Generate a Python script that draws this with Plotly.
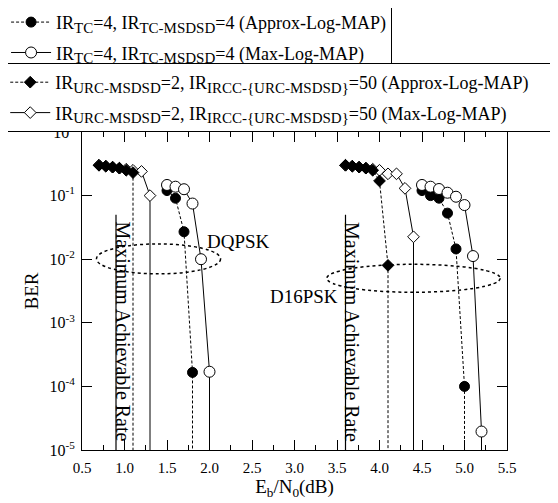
import plotly.graph_objects as go

# ---------------- data ----------------
# TC (turbo) series, Approx-Log-MAP (filled circles, dashed)
tc_approx_x = [1.5, 1.6, 1.7, 1.8, 1.8, None, 4.5, 4.6, 4.7, 4.8, 4.9, 5.0, 5.0]
tc_approx_y = [0.12, 0.091, 0.027, 1.66e-4, 1e-7, None, 0.12, 0.10, 0.091, 0.053, 0.0145, 1.0e-4, 1e-7]
# TC series, Max-Log-MAP (hollow circles, solid)
tc_max_x = [1.5, 1.6, 1.7, 1.8, 1.9, 2.0, 2.0, None, 4.5, 4.6, 4.7, 4.8, 4.9, 5.0, 5.1, 5.2, 5.2]
tc_max_y = [0.147, 0.138, 0.126, 0.075, 0.010, 1.7e-4, 1e-7, None,
            0.147, 0.138, 0.127, 0.111, 0.096, 0.071, 0.0112, 1.95e-5, 1e-7]
# URC / IRCC series, Approx-Log-MAP (filled diamonds, dashed)
urc_approx_x = [0.7, 0.78, 0.86, 0.94, 1.02, 1.1, 1.1, None,
                3.6, 3.68, 3.76, 3.84, 3.92, 4.0, 4.1, 4.1]
urc_approx_y = [0.30, 0.29, 0.28, 0.27, 0.25, 0.23, 1e-7, None,
                0.30, 0.29, 0.28, 0.27, 0.25, 0.17, 0.008, 1e-7]
# URC / IRCC series, Max-Log-MAP (hollow diamonds, solid)
urc_max_x = [0.7, 0.78, 0.86, 0.94, 1.02, 1.1, 1.2, 1.3, 1.3, None,
             3.6, 3.68, 3.76, 3.84, 3.92, 4.0, 4.1, 4.2, 4.3, 4.4, 4.4]
urc_max_y = [0.30, 0.29, 0.28, 0.27, 0.26, 0.25, 0.24, 0.10, 1e-7, None,
             0.30, 0.29, 0.28, 0.27, 0.26, 0.25, 0.22, 0.22, 0.13, 0.0225, 1e-7]

# Maximum achievable rate lines
mar_x = [0.9, 3.6]
mar_top = 0.05
mar_bottom = 1e-7

# Ellipse regions (x0, x1, y_top, y_bottom) and labels
ellipse_x0 = [0.67, 3.38]
ellipse_x1 = [2.13, 5.42]
ellipse_ytop = [10 ** -1.76, 10 ** -2.08]
ellipse_ybot = [10 ** -2.23, 10 ** -2.52]
mod_labels = ["DQPSK", "D16PSK"]
mod_label_x = [2.34, 3.11]
mod_label_logy = [-1.72, -2.59]

y_tickvals = [1, 1e-1, 1e-2, 1e-3, 1e-4, 1e-5]
y_ticktext = ["10<sup>0</sup>", "10<sup>-1</sup>", "10<sup>-2</sup>",
              "10<sup>-3</sup>", "10<sup>-4</sup>", "10<sup>-5</sup>"]

FONT = "Liberation Serif"
DASH = "3px,2px"


def sub(t):
    return '<sub><span style="font-size:15px">' + t + '</span></sub>'


fig = go.Figure()

fig.add_trace(go.Scatter(
    x=tc_approx_x, y=tc_approx_y, mode="lines+markers",
    name="IR" + sub("TC") + "=4, IR" + sub("TC-MSDSD") + "=4 (Approx-Log-MAP)",
    line=dict(color="black", width=1, dash=DASH),
    marker=dict(symbol="circle", size=10, color="black", line=dict(color="black", width=1)),
    legend="legend", legendgroup="g1", legendrank=1, connectgaps=False))
fig.add_trace(go.Scatter(
    x=tc_max_x, y=tc_max_y, mode="lines+markers",
    name="IR" + sub("TC") + "=4, IR" + sub("TC-MSDSD") + "=4 (Max-Log-MAP)",
    line=dict(color="black", width=1),
    marker=dict(symbol="circle", size=11, color="white", line=dict(color="black", width=1)),
    legend="legend", legendgroup="g2", legendrank=2, connectgaps=False))
fig.add_trace(go.Scatter(
    x=urc_max_x, y=urc_max_y, mode="lines+markers",
    name="IR" + sub("URC-MSDSD") + "=2, IR" + sub("IRCC-{URC-MSDSD}") + "=50 (Max-Log-MAP)",
    line=dict(color="black", width=1),
    marker=dict(symbol="diamond", size=9, color="white", line=dict(color="black", width=1)),
    legend="legend2", legendgroup="g4", legendrank=4, connectgaps=False))
fig.add_trace(go.Scatter(
    x=urc_approx_x, y=urc_approx_y, mode="lines+markers",
    name="IR" + sub("URC-MSDSD") + "=2, IR" + sub("IRCC-{URC-MSDSD}")
         + "=50 (Approx-Log-MAP)&nbsp;&nbsp;&nbsp;&nbsp;&nbsp;",
    line=dict(color="black", width=1, dash=DASH),
    marker=dict(symbol="diamond", size=9, color="black", line=dict(color="black", width=1)),
    legend="legend2", legendgroup="g3", legendrank=3, connectgaps=False))

# Maximum achievable rate lines
for xv in mar_x:
    fig.add_trace(go.Scatter(x=[xv, xv], y=[mar_top, mar_bottom], mode="lines",
                             line=dict(color="black", width=1.2), showlegend=False,
                             hoverinfo="skip"))

shapes = []
for x0, x1, yt, yb in zip(ellipse_x0, ellipse_x1, ellipse_ytop, ellipse_ybot):
    shapes.append(dict(type="circle", xref="x", yref="y", x0=x0, x1=x1, y0=yb, y1=yt,
                       line=dict(color="black", width=1.5, dash="dot")))

annotations = []
for t, xv, ly in zip(mod_labels, mod_label_x, mod_label_logy):
    annotations.append(dict(x=xv, y=ly, xref="x", yref="y", text=t, showarrow=False,
                            font=dict(family=FONT, size=19, color="black"),
                            xanchor="center", yanchor="middle"))
for xv in mar_x:
    annotations.append(dict(x=xv + 0.085, y=-3.14, xref="x", yref="y",
                            text="Maximum Achievable Rate", showarrow=False, textangle=90,
                            font=dict(family=FONT, size=20, color="black"),
                            xanchor="center", yanchor="middle"))

# The page body adds an 8px margin, so the figure is 8px smaller and margins are
# reduced by 8px to keep the plot area at the reference position.
fig.update_layout(
    width=550, height=495,
    margin=dict(l=74, r=51, t=124, b=53, autoexpand=False),
    paper_bgcolor="white", plot_bgcolor="white",
    font=dict(family=FONT, size=15, color="black"),
    shapes=shapes, annotations=annotations,
    legend=dict(x=-0.181, y=1.406, xanchor="left", yanchor="top",
                bgcolor="white", bordercolor="black", borderwidth=1,
                font=dict(family=FONT, size=18, color="black"),
                itemwidth=40, tracegroupgap=4, traceorder="grouped"),
    legend2=dict(x=-0.183, y=1.217, xanchor="left", yanchor="top",
                 bgcolor="white", bordercolor="black", borderwidth=1,
                 font=dict(family=FONT, size=18, color="black"),
                 itemwidth=40, tracegroupgap=4, traceorder="grouped"),
    showlegend=True,
)

fig.update_xaxes(
    range=[0.5, 5.5], tick0=0.5, dtick=0.5, tickformat=".1f",
    ticks="inside", ticklen=10, tickcolor="black",
    showline=True, linecolor="black", linewidth=1, mirror="ticks",
    showgrid=False, zeroline=False,
    minor=dict(dtick=0.25, tick0=0.5, ticks="inside", ticklen=5, tickcolor="black", showgrid=False),
    tickfont=dict(family=FONT, size=15), ticklabelstandoff=4,
    title=dict(text="E<sub>b</sub>/N<sub>0</sub>(dB)", font=dict(family=FONT, size=19), standoff=4),
)
fig.update_yaxes(
    type="log", range=[-5, 0], tickvals=y_tickvals, ticktext=y_ticktext,
    ticks="inside", ticklen=10, tickcolor="black",
    showline=True, linecolor="black", linewidth=1, mirror="ticks",
    showgrid=False, zeroline=False,
    tickfont=dict(family=FONT, size=16), ticklabelstandoff=3,
    title=dict(text="BER", font=dict(family=FONT, size=19), standoff=5),
)

fig.write_html("out.html")
